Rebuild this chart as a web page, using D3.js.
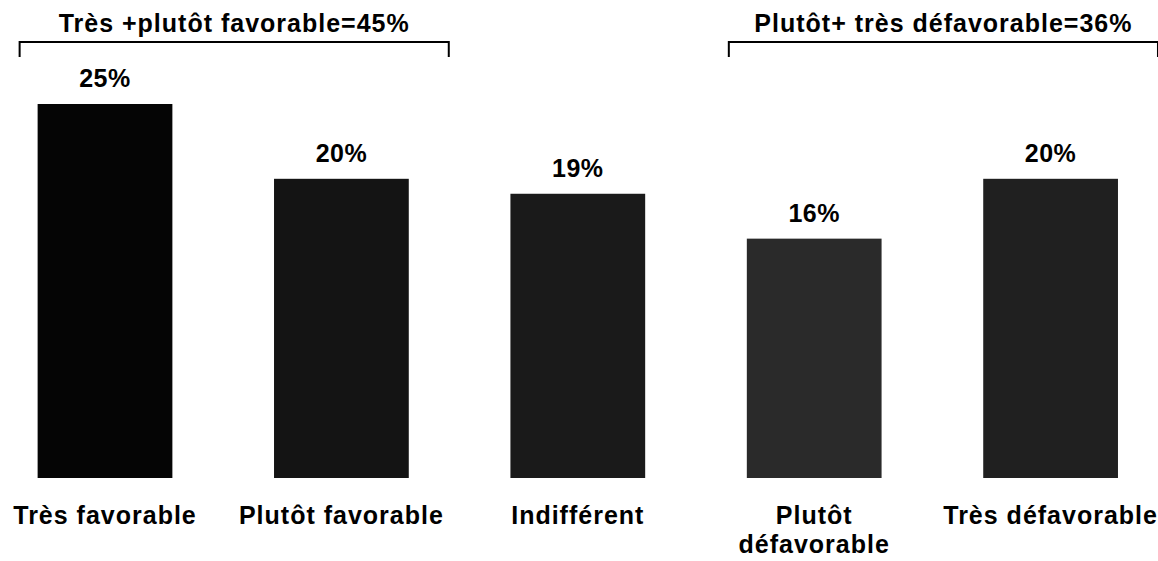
<!DOCTYPE html>
<html>
<head>
<meta charset="utf-8">
<script src="https://cdn.jsdelivr.net/npm/d3@7"></script>
<style>
  body { margin: 0; background: #fff; }
  text { font-family: "Liberation Sans", Arial, sans-serif; font-weight: bold; fill: #000; }
</style>
</head>
<body>
<svg id="chart"></svg>
<script>
const width = 1158;
const height = 561;

// data
const categories = ["Très favorable", "Plutôt favorable", "Indifférent", "Plutôt\ndéfavorable", "Très défavorable"];
const values = [25, 20, 19, 16, 20];
const barColors = ["#050505", "#141414", "#1a1a1a", "#2a2a2a", "#202020"];
const groupLabels = ["Très +plutôt favorable=45%", "Plutôt+ très défavorable=36%"];
const groupRanges = [[0, 1], [3, 4]];

const svg = d3.select("#chart")
  .attr("width", width)
  .attr("height", height);

const x = d3.scaleBand()
  .domain(d3.range(categories.length))
  .range([-13.2, 1168.8])
  .paddingInner(0.43)
  .paddingOuter(0.215);

const y = d3.scaleLinear()
  .domain([0, 25])
  .range([478, 104]);

// bars
svg.selectAll("rect.bar")
  .data(values)
  .join("rect")
  .attr("class", "bar")
  .attr("x", (d, i) => x(i))
  .attr("y", d => y(d))
  .attr("width", x.bandwidth())
  .attr("height", d => y(0) - y(d))
  .attr("fill", (d, i) => barColors[i]);

// value labels
svg.selectAll("text.value")
  .data(values)
  .join("text")
  .attr("class", "value")
  .attr("x", (d, i) => x(i) + x.bandwidth() / 2)
  .attr("y", d => y(d) - 17)
  .attr("text-anchor", "middle")
  .attr("font-size", 25)
  .attr("letter-spacing", "0.5px")
  .text(d => d + "%");

// category labels
const cat = svg.selectAll("text.cat")
  .data(categories)
  .join("text")
  .attr("class", "cat")
  .attr("x", (d, i) => x(i) + x.bandwidth() / 2)
  .attr("y", 524)
  .attr("text-anchor", "middle")
  .attr("font-size", 25)
  .attr("letter-spacing", "1px");

cat.each(function(d) {
  const t = d3.select(this);
  d.split("\n").forEach((line, k) => {
    t.append("tspan")
      .attr("x", t.attr("x"))
      .attr("dy", k === 0 ? 0 : 29)
      .text(line);
  });
});

// group brackets
const bracketY = 42;
groupRanges.forEach((r, g) => {
  const x0 = x(r[0]) - 18;
  const x1 = x(r[1]) + x.bandwidth() + 40;
  svg.append("path")
    .attr("d", `M${x0},${bracketY + 15}V${bracketY}H${x1}V${bracketY + 15}`)
    .attr("fill", "none")
    .attr("stroke", "#000")
    .attr("stroke-width", 2);
  svg.append("text")
    .attr("x", (x0 + x1) / 2)
    .attr("y", 32)
    .attr("text-anchor", "middle")
    .attr("font-size", 25)
    .attr("letter-spacing", "1px")
    .text(groupLabels[g]);
});
</script>
</body>
</html>
